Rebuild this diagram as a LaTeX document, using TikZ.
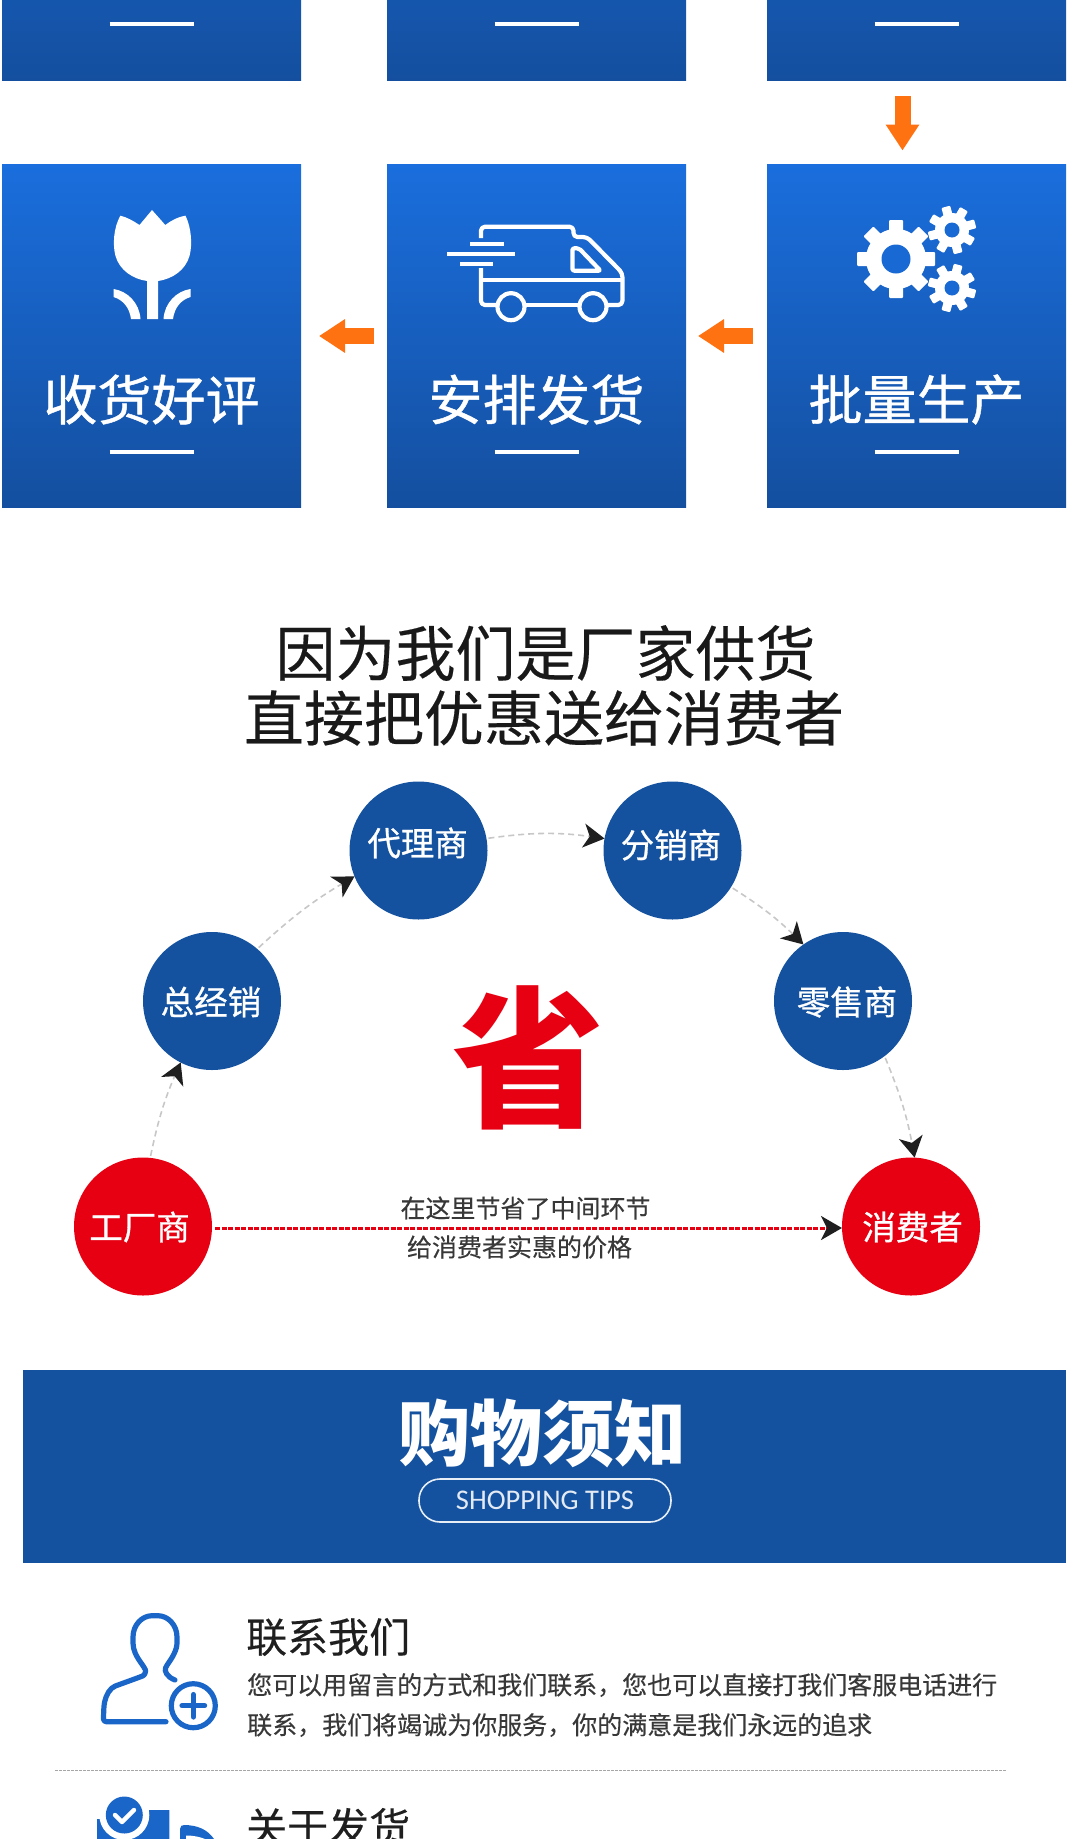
\documentclass[tikz,border=0pt]{standalone}
\usepackage{fontspec}
\setmainfont{Noto Sans CJK SC}
\newfontfamily\midcjk[FakeBold=0.8]{Noto Sans CJK SC}
\newfontfamily\softcjk[FakeBold=0.3]{Noto Sans CJK SC}
\newfontfamily\tipsfont{Carlito}
\usetikzlibrary{arrows.meta}
\definecolor{boxtop}{HTML}{1A6EDD}
\definecolor{boxbot}{HTML}{144F9F}
\definecolor{navy}{HTML}{14529F}
\definecolor{savered}{HTML}{E60012}
\definecolor{flow}{HTML}{FF7212}
\definecolor{iconblue}{HTML}{1A66C8}
\tikzset{
stepbox/.style={shade,top color=boxtop,bottom color=boxbot,minimum width=299pt,minimum height=343pt,inner sep=0pt,outer sep=0pt},
steplabel/.style={text=white,inner sep=0pt,font=\midcjk\fontsize{54}{60}\selectfont},
steprule/.style={white,line width=4pt},
flowarrow/.style={flow,line width=16pt,-{Triangle[length=26pt,width=32pt]}},
station/.style={circle,fill=navy,text=white,minimum size=138pt,inner sep=0pt,outer sep=0pt},
endstation/.style={station,fill=savered},
stationlabel/.style={text=white,inner sep=0pt,font=\midcjk\fontsize{33.5}{36}\selectfont},
hop/.style={draw=black!22,line width=1.6pt,dash pattern=on 6pt off 4pt,shorten <=2pt,-{Stealth[length=21pt,width=24pt,inset=6pt,color=black!88,fill=black!88]}},
heading/.style={inner sep=0pt,text=black!90,font=\softcjk\fontsize{60}{66}\selectfont},
tiptitle/.style={inner sep=0pt,anchor=west,text=black!88,font=\softcjk\fontsize{41}{46}\selectfont},
tipbody/.style={inner sep=0pt,anchor=west,text=black!78,font=\softcjk\fontsize{25}{30}\selectfont},
midnote/.style={inner sep=0pt,text=black!78,font=\softcjk\fontsize{25}{30}\selectfont}
}
\begin{document}
\begin{tikzpicture}[x=1pt,y=-1pt,line join=round]
\useasboundingbox (0,0) rectangle (1080,1839);
\clip (0,0) rectangle (1080,1839);
% two rows of steps
\foreach \nm/\cx in {topa/151.5,topb/536.5,topc/916.5}
{\node[stepbox] (\nm) at (\cx,-91.5) {};
\draw[steprule] (\cx-42,23.5)--(\cx+42,23.5);}
\foreach \nm/\cx/\lb in {review/151.5/收货好评,ship/536.5/安排发货,prod/916.5/批量生产}
{\node[stepbox] (\nm) at (\cx,336) {};
\node[steplabel] (\nm label) at (\cx,399.5) {\lb};
\draw[steprule] (\cx-42,452)--(\cx+42,452);}
\draw[flowarrow,shorten <=16pt,shorten >=14pt] ([xshift=-14pt]topc.south)--([xshift=-14pt]prod.north);
\draw[flowarrow,shorten <=14pt,shorten >=12pt] (prod.west)--(ship.east);
\draw[flowarrow,shorten <=13pt,shorten >=18pt] (ship.west)--(review.east);
% tulip
\fill[white] (152,210)--(139.5,225) .. controls (133.5,221) and (126.5,217) .. (120.3,215.7) .. controls (113.5,228) and (112.5,245) .. (115.5,256) .. controls (119.5,270) and (132.5,279) .. (147.2,281)--(147.2,319)--(158,319)--(158,281) .. controls (172.5,279) and (185.5,270) .. (189.5,256) .. controls (192.5,245) and (191.5,228) .. (185.5,215.7) .. controls (177.5,217) and (170.5,221) .. (165.3,225)--cycle;
\fill[white] (113.5,289)--(113.5,297) .. controls (123.5,300) and (129.5,308) .. (131,319)--(140.5,319) .. controls (139.5,303) and (127.5,291) .. (113.5,289)--cycle;
\fill[white] (190.5,289)--(190.5,297) .. controls (180.5,300) and (174.5,308) .. (173,319)--(163.5,319) .. controls (164.5,303) and (176.5,291) .. (190.5,289)--cycle;
% truck
\begin{scope}[white,line width=4.2pt,xshift=-3pt]
\draw[rounded corners=4pt] (484,238)--(484,226.7)--(576.5,226.7)--(576.5,237)--(590,237)--(625.4,273)--(625.4,305)--(610,305);
\draw (582,305)--(528,305);
\draw[rounded corners=4pt] (500,305)--(484,305)--(484,268);
\draw (484,280)--(625.4,280);
\draw[rounded corners=2pt] (575.4,248.3)--(575.4,270.7)--(603.5,270.7)--(582,248.3)--cycle;
\draw (514,306.7) circle (13.5) (596,306.7) circle (13.5);
\draw (473,244)--(507,244) (450,254)--(518,254) (463,264)--(496,264);
\end{scope}
% gears
\foreach \cx/\cy/\rb/\ro/\rh/\tw/\off in {896/259/30/39/14.5/14/0,952/230/17/24/7.5/9/15,952/288/17/24/7.5/9/-15}
{\fill[white] (\cx,\cy) circle (\rb);
\foreach \a in {0,45,...,315}
{\fill[white,rotate around={\a+\off:(\cx,\cy)},rounded corners=1pt] (\cx-\tw/2,\cy-\ro) rectangle (\cx+\tw/2,\cy);}
\fill[boxtop!85!boxbot] (\cx,\cy) circle (\rh);}
% heading
\node[heading] (headone) at (545.5,653) {因为我们是厂家供货};
\node[heading] (headtwo) at (544,718) {直接把优惠送给消费者};
% stations
\node[endstation] (fac) at (143,1226.5) {};
\node[station] (gen) at (212,1001) {};
\node[station] (agent) at (418.5,850.5) {};
\node[station] (dist) at (672.5,850.5) {};
\node[station] (shop) at (843,1001) {};
\node[endstation] (buyer) at (911,1226.5) {};
\node[stationlabel] (faclabel) at (139.6,1227) {工厂商};
\node[stationlabel] (genlabel) at (211,1002) {总经销};
\node[stationlabel] (agentlabel) at (417.6,843) {代理商};
\node[stationlabel] (distlabel) at (671,845) {分销商};
\node[stationlabel] (shoplabel) at (847,1002) {零售商};
\node[stationlabel] (buyerlabel) at (912.6,1227) {消费者};
\draw[hop] (fac.84) to[bend left=6] (gen.243);
\draw[hop] (gen.49) to[bend left=6] (agent.202);
\draw[hop] (agent.10) to[bend left=8] (dist.170);
\draw[hop] (dist.-32) to[bend left=6] (shop.125);
\draw[hop] (shop.-53) to[bend left=6] (buyer.87);
\draw[savered,line width=3pt,dash pattern=on 5pt off 1.5pt,shorten <=3pt,-{Stealth[length=21pt,width=24pt,inset=6pt,color=black!88,fill=black!88]}] ([yshift=-1.5pt]fac.east)--([yshift=-1.5pt]buyer.west);
\node[midnote] (noteone) at (525.5,1208) {在这里节省了中间环节};
\node[midnote] (notetwo) at (519.5,1247) {给消费者实惠的价格};
\node[inner sep=0pt,text=savered,font=\fontsize{152}{160}\selectfont\bfseries] (save) at (528,1058) {省};
% banner
\fill[navy] (23,1370) rectangle (1066,1563);
\node[inner sep=0pt,text=white,font=\fontsize{72}{76}\selectfont\bfseries] (bannertitle) at (542.5,1433) {购物须知};
\node[draw=white!90!navy,line width=1.6pt,rounded corners=21pt,minimum width=252pt,minimum height=43pt,inner sep=0pt,text=white!88!navy,font=\tipsfont\fontsize{28.5}{32}\selectfont] (tips) at (545,1500.5) {SHOPPING TIPS};
% tips
\node[tiptitle] (contact) at (246,1637) {联系我们};
\node[tipbody] (contactone) at (247,1685) {您可以用留言的方式和我们联系，您也可以直接打我们客服电话进行};
\node[tipbody] (contacttwo) at (247,1725) {联系，我们将竭诚为你服务，你的满意是我们永远的追求};
\draw[black!35,line width=1pt,dash pattern=on 2.5pt off 1.5pt] (55,1770)--(1006,1770);
\node[tiptitle] (delivery) at (246,1827) {关于发货};
% person icon
\draw[iconblue,line width=5.2pt,line cap=round,rounded corners=3pt] (166,1721.7)--(103.3,1721.7)--(104,1705) .. controls (106,1695) and (110,1688) .. (118,1685)--(140,1677) .. controls (145,1675) and (146,1671) .. (144,1667) .. controls (136,1656) and (133,1650) .. (133,1640) .. controls (133,1625) and (142,1615.7) .. (155,1615.7) .. controls (168,1615.7) and (177,1625) .. (177,1640) .. controls (177,1650) and (172,1658) .. (167,1665) .. controls (164,1671) and (167,1677) .. (175,1680);
\draw[iconblue,line width=5.2pt] (193.3,1705.7) circle (22);
\draw[iconblue,line width=5.2pt,line cap=round] (182,1705.7)--(204.6,1705.7) (193.3,1694.5)--(193.3,1717);
% parcel icon
\fill[iconblue] (97,1819) rectangle (169.3,1839) (135,1810) rectangle (169.3,1839);
\fill[white] (124.3,1815) circle (25);
\fill[iconblue] (124.3,1815) circle (18.5);
\draw[white,line width=4.4pt,line cap=round] (115,1815)--(122,1822)--(134,1810);
\fill[iconblue] (180,1829) .. controls (180,1826) and (182,1825) .. (184,1825) .. controls (198,1825) and (208,1830) .. (214,1839)--(180,1839)--cycle;
\fill[white] (186,1835.5) .. controls (194,1835.5) and (200,1837) .. (205,1839)--(186,1839)--cycle;
\end{tikzpicture}
\end{document}
